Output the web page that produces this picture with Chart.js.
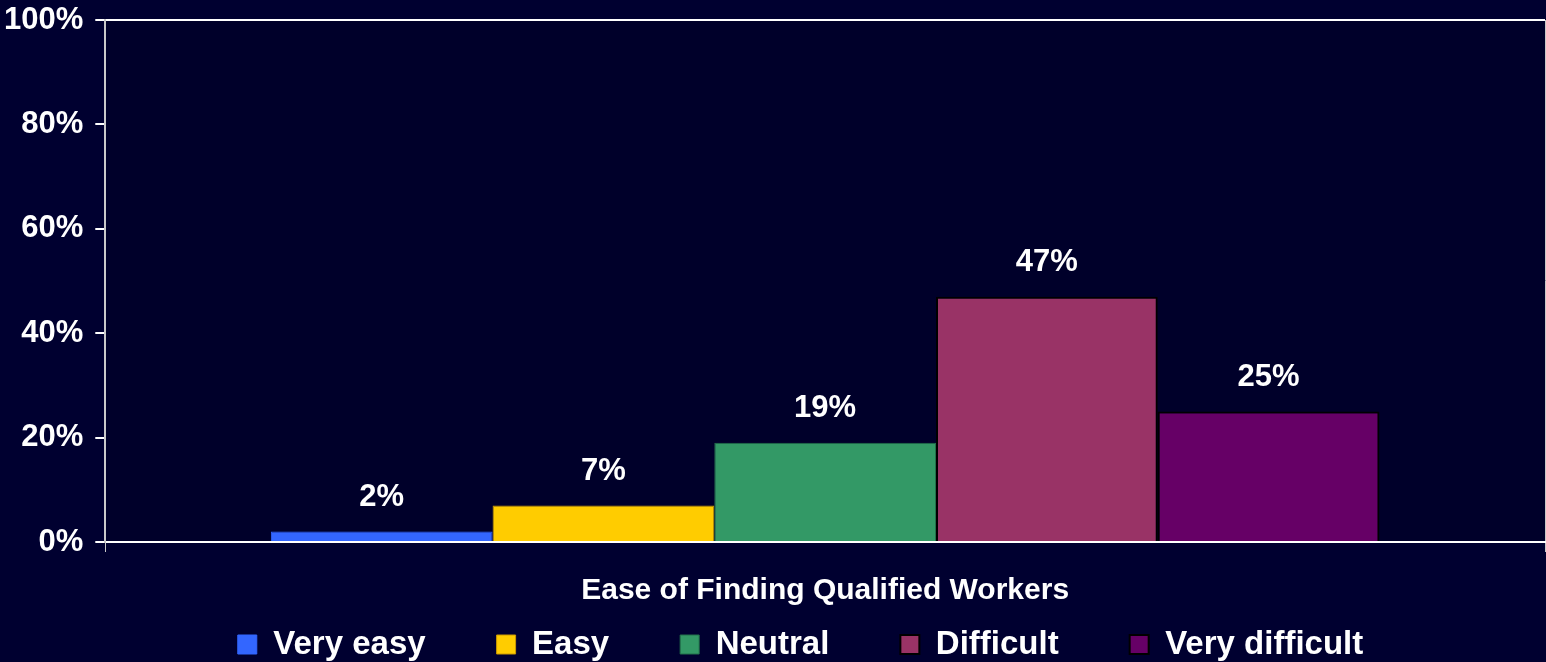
<!DOCTYPE html>
<html>
<head>
<meta charset="utf-8">
<title>Ease of Finding Qualified Workers</title>
<script src="https://cdn.jsdelivr.net/npm/chart.js@4.4.0/dist/chart.umd.min.js"></script>
<style>
  html, body { margin: 0; padding: 0; background: #000030; }
  #wrap { width: 1546px; height: 662px; position: relative; }
</style>
</head>
<body>
<div id="wrap"><canvas id="easeChart"></canvas></div>
<script>
const categories = [''];
const seriesNames = ['Very easy', 'Easy', 'Neutral', 'Difficult', 'Very difficult'];
const seriesValues = [2, 7, 19, 47, 25];
const seriesColors = ['#3366ff', '#ffcc00', '#339966', '#993366', '#660066'];
const seriesBorders = ['#3366ff', '#cc9900', '#22704a', '#000000', '#000000'];
const yTicks = [0, 20, 40, 60, 80, 100];
const axisTitle = 'Ease of Finding Qualified Workers';

const FONT = '"Liberation Sans", Arial, sans-serif';

// page + plot area background
const background = {
    id: 'background',
    beforeDraw(chart) {
        const { ctx, chartArea: a } = chart;
        ctx.save();
        ctx.fillStyle = '#000030';
        ctx.fillRect(0, 0, chart.width, chart.height);
        ctx.fillStyle = '#00002a';
        ctx.fillRect(a.left, a.top, a.right - a.left, a.bottom - a.top);
        ctx.restore();
    }
};

// the legend in the original sits a little right of centre
const legendShift = {
    id: 'legendShift',
    afterLayout(chart) {
        if (chart.legend) chart.legend.left += 64;
    }
};

// value labels above the bars
const valueLabels = {
    id: 'valueLabels',
    afterDatasetsDraw(chart) {
        const ctx = chart.ctx;
        ctx.save();
        ctx.font = 'bold 31px ' + FONT;
        ctx.fillStyle = '#ffffff';
        ctx.textAlign = 'center';
        ctx.textBaseline = 'middle';
        chart.data.datasets.forEach((ds, i) => {
            const bar = chart.getDatasetMeta(i).data[0];
            ctx.fillText(ds.data[0] + '%', bar.x, bar.y - 34);
        });
        ctx.restore();
    }
};

new Chart(document.getElementById('easeChart'), {
    type: 'bar',
    data: {
        labels: categories,
        datasets: seriesNames.map((name, i) => ({
            label: name,
            data: [seriesValues[i]],
            backgroundColor: seriesColors[i],
            borderColor: seriesBorders[i],
            borderWidth: i >= 3 ? 2 : 1,
            categoryPercentage: 0.77,
            barPercentage: 1.0
        }))
    },
    options: {
        responsive: true,
        maintainAspectRatio: false,
        animation: false,
        layout: { padding: { top: 20, left: -8, right: 1, bottom: -9 } },
        scales: {
            x: {
                grid: {
                    offset: true,
                    color: '#c8c8c8',
                    lineWidth: 1,
                    tickLength: 10
                },
                border: { color: '#ffffff', width: 2 },
                ticks: { display: false },
                title: {
                    display: true,
                    text: axisTitle,
                    color: '#ffffff',
                    font: { family: FONT, size: 30, weight: 'bold' },
                    padding: { top: 21, bottom: -52 }
                }
            },
            y: {
                min: 0,
                max: 100,
                afterBuildTicks(scale) {
                    scale.ticks = yTicks.map(v => ({ value: v }));
                },
                afterFit(scale) {
                    // let the top label overhang, like the original
                    scale.paddingTop = 0;
                },
                ticks: {
                    color: '#ffffff',
                    padding: 12,
                    font: { family: FONT, size: 31, weight: 'bold' },
                    callback: v => v + '%'
                },
                grid: {
                    color: c => (c.tick && c.tick.value === 100 ? '#ffffff' : 'transparent'),
                    tickColor: '#ffffff',
                    lineWidth: 2,
                    tickLength: 10
                },
                border: { color: '#c8c8c8', width: 2 }
            }
        },
        plugins: {
            legend: {
                position: 'bottom',
                labels: {
                    color: '#ffffff',
                    boxWidth: 19,
                    boxHeight: 19,
                    padding: 71,
                    font: { family: FONT, size: 33, weight: 'bold' }
                }
            },
            tooltip: { enabled: false }
        }
    },
    plugins: [background, legendShift, valueLabels]
});
</script>
</body>
</html>
